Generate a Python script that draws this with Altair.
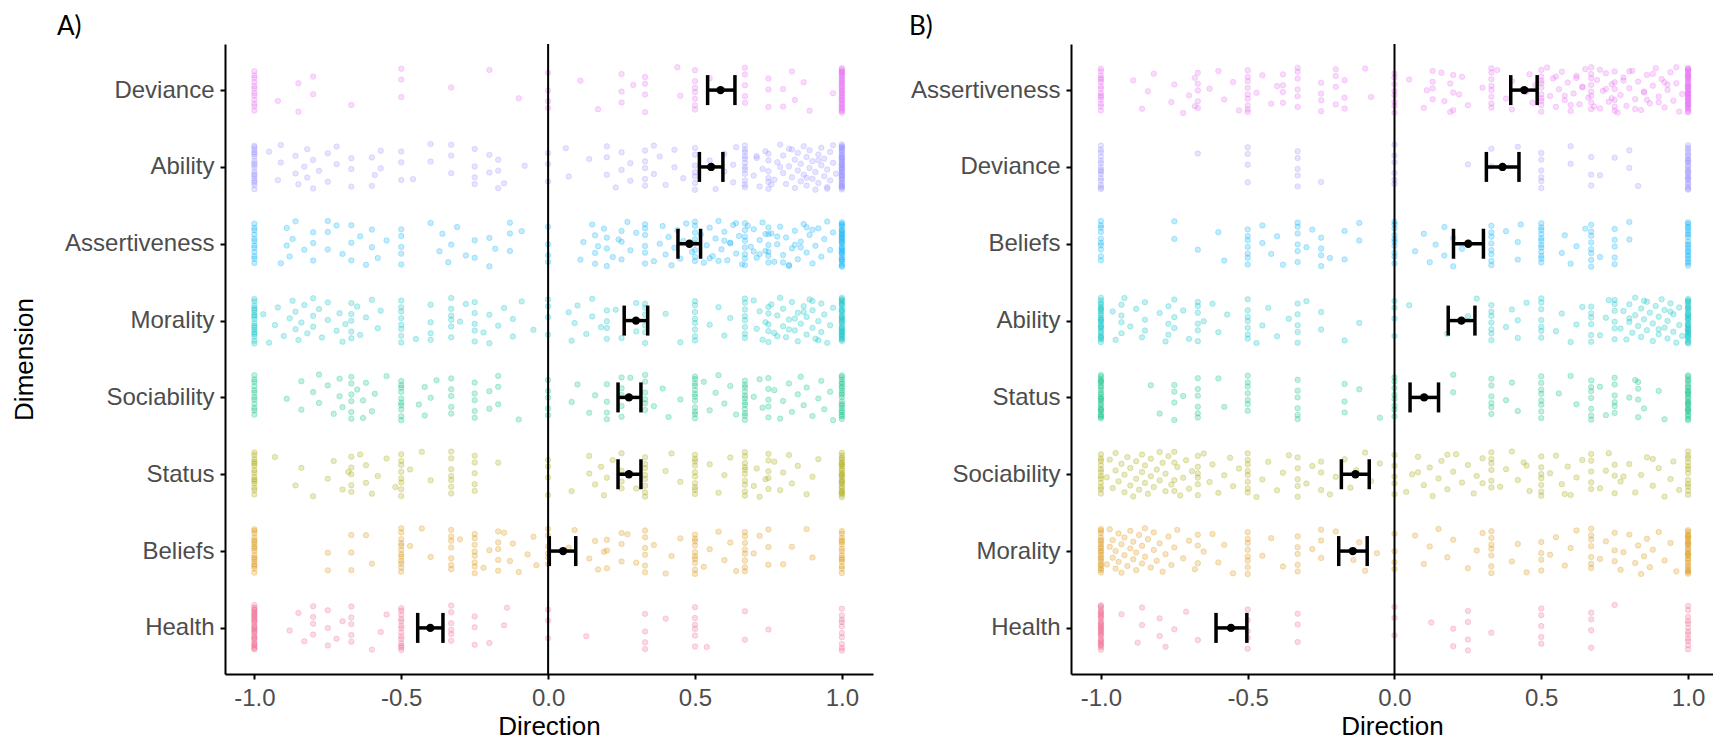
import altair as alt
import pandas as pd

# ---------------- data ----------------
PALETTE = ["#E76BF3", "#9590FF", "#00B0F6", "#00BFC4", "#00BF7D", "#A3A500", "#D89000", "#F0668C"]
X_TICKS = [-1.0, -0.5, 0.0, 0.5, 1.0]

# Panel A (rows top -> bottom)
CATS_A = ["Deviance", "Ability", "Assertiveness", "Morality", "Sociability", "Status", "Beliefs", "Health"]
MEAN_A = [0.587, 0.555, 0.481, 0.299, 0.275, 0.275, 0.051, -0.401]
LO_A = [0.543, 0.515, 0.442, 0.259, 0.238, 0.238, 0.004, -0.444]
HI_A = [0.636, 0.595, 0.519, 0.339, 0.316, 0.316, 0.094, -0.358]

# Panel B (rows top -> bottom)
CATS_B = ["Assertiveness", "Deviance", "Beliefs", "Ability", "Status", "Sociability", "Morality", "Health"]
MEAN_B = [0.442, 0.368, 0.251, 0.228, 0.101, -0.133, -0.142, -0.557]
LO_B = [0.396, 0.313, 0.201, 0.183, 0.053, -0.181, -0.190, -0.608]
HI_B = [0.486, 0.424, 0.303, 0.274, 0.150, -0.086, -0.093, -0.503]

# individual responses: (value, count) for stacked values, plus single values
A_DEVIANCE_STACK = [(-1, 12), (-0.5, 3), (0, 4), (0.33, 4), (0.5, 7), (0.67, 5), (0.75, 3), (1, 35)]
A_DEVIANCE_SINGLE = [-0.92, -0.85, -0.85, -0.8, -0.8, -0.67, -0.33, -0.2, -0.1, 0.11, 0.17, 0.25, 0.25, 0.25,
                     0.29, 0.44, 0.45, 0.55, 0.8, 0.8, 0.83, 0.84, 0.87, 0.89, 0.97]

A_ABILITY_STACK = [(-1, 18), (-0.67, 3), (-0.5, 3), (-0.33, 3), (-0.25, 4), (-0.17, 3), (0, 3), (0.2, 3),
                   (0.33, 5), (0.5, 7), (0.67, 12), (0.75, 6), (1, 40)]
A_ABILITY_SINGLE = [-0.95, -0.92, -0.91, -0.91, -0.86, -0.86, -0.85, -0.83, -0.82, -0.82, -0.8, -0.8, -0.78,
                    -0.75, -0.75, -0.72, -0.72, -0.59, -0.6, -0.6, -0.57, -0.57, -0.46, -0.4, -0.4, -0.2, -0.2,
                    -0.15, -0.08, 0.06, 0.07, 0.14, 0.23, 0.25, 0.25, 0.28, 0.28, 0.36, 0.36, 0.38, 0.4, 0.43,
                    0.43, 0.46, 0.55, 0.57, 0.6, 0.6, 0.63, 0.63, 0.64, 0.7, 0.71, 0.72, 0.73, 0.74, 0.77, 0.78,
                    0.79, 0.8, 0.8, 0.81, 0.82, 0.82, 0.83, 0.84, 0.84, 0.85, 0.85, 0.86, 0.86, 0.87, 0.87, 0.88,
                    0.88, 0.89, 0.89, 0.9, 0.9, 0.91, 0.91, 0.92, 0.92, 0.93, 0.93, 0.94, 0.94, 0.95, 0.95, 0.96,
                    0.96, 0.97, 0.97, 0.98, 0.71, 0.76, 0.79, 0.83, 0.88, 0.92, 0.95]

A_ASSERT_STACK = [(-1, 12), (-0.75, 3), (-0.67, 3), (-0.5, 5), (-0.25, 2), (-0.13, 3), (0, 4), (0.2, 3),
                  (0.25, 3), (0.33, 6), (0.5, 8), (0.67, 8), (0.75, 6), (1, 30)]
A_ASSERT_SINGLE = [-0.91, -0.89, -0.89, -0.88, -0.87, -0.86, -0.83, -0.8, -0.8, -0.8, -0.72, -0.7, -0.64, -0.62,
                   -0.6, -0.6, -0.58, -0.55, -0.4, -0.37, -0.36, -0.34, -0.33, -0.31, -0.28, -0.2, -0.2, -0.18,
                   -0.09, 0.11, 0.12, 0.15, 0.16, 0.16, 0.16, 0.17, 0.19, 0.22, 0.24, 0.27, 0.28, 0.3, 0.36, 0.38,
                   0.39, 0.4, 0.41, 0.42, 0.43, 0.44, 0.45, 0.46, 0.47, 0.49, 0.52, 0.53, 0.54, 0.55, 0.56, 0.57,
                   0.58, 0.59, 0.6, 0.61, 0.62, 0.63, 0.64, 0.65, 0.66, 0.69, 0.7, 0.71, 0.72, 0.73, 0.74, 0.76,
                   0.77, 0.78, 0.79, 0.8, 0.81, 0.82, 0.83, 0.84, 0.85, 0.86, 0.87, 0.88, 0.89, 0.9, 0.91, 0.92,
                   0.93, 0.94, 0.95, 0.96, 0.97, 0.58, 0.62, 0.68, 0.72, 0.78, 0.82, 0.86, 0.9, 0.55, 0.6, 0.64,
                   0.7, 0.74, 0.8, 0.84, 0.88]

A_MORAL_STACK = [(-1, 18), (-0.67, 5), (-0.5, 8), (-0.4, 4), (-0.33, 6), (-0.25, 5), (0, 4), (0.2, 4),
                 (0.33, 6), (0.5, 8), (0.67, 8), (0.75, 5), (1, 30)]
A_MORAL_SINGLE = [-0.97, -0.95, -0.93, -0.92, -0.9, -0.88, -0.87, -0.86, -0.86, -0.85, -0.84, -0.83, -0.82, -0.8,
                  -0.8, -0.8, -0.78, -0.77, -0.75, -0.75, -0.72, -0.71, -0.7, -0.69, -0.65, -0.64, -0.62, -0.6,
                  -0.58, -0.57, -0.45, -0.3, -0.28, -0.22, -0.2, -0.2, -0.17, -0.15, -0.12, -0.12, -0.09, -0.05,
                  0.07, 0.08, 0.09, 0.1, 0.13, 0.15, 0.15, 0.18, 0.23, 0.25, 0.3, 0.3, 0.3, 0.4, 0.45, 0.55, 0.58,
                  0.6, 0.62, 0.7, 0.71, 0.72, 0.73, 0.74, 0.76, 0.77, 0.78, 0.79, 0.8, 0.8, 0.81, 0.82, 0.83, 0.84,
                  0.85, 0.85, 0.86, 0.87, 0.88, 0.88, 0.89, 0.9, 0.9, 0.91, 0.92, 0.93, 0.93, 0.94, 0.95, 0.96,
                  0.97, 0.78, 0.84, 0.9, 0.82, 0.87, 0.92]

A_SOCIAL_STACK = [(-1, 12), (-0.67, 6), (-0.5, 10), (-0.33, 5), (-0.25, 5), (-0.17, 3), (0, 5), (0.2, 4),
                  (0.25, 5), (0.33, 6), (0.5, 12), (0.67, 12), (0.75, 5), (1, 20)]
A_SOCIAL_SINGLE = [-0.89, -0.84, -0.84, -0.8, -0.78, -0.78, -0.75, -0.73, -0.71, -0.71, -0.7, -0.65, -0.63,
                   -0.63, -0.62, -0.6, -0.59, -0.55, -0.44, -0.42, -0.42, -0.4, -0.38, -0.2, -0.2, -0.1, 0.08,
                   0.1, 0.14, 0.16, 0.28, 0.36, 0.39, 0.41, 0.45, 0.53, 0.55, 0.57, 0.58, 0.6, 0.62, 0.64, 0.7,
                   0.72, 0.73, 0.77, 0.79, 0.8, 0.82, 0.83, 0.85, 0.86, 0.87, 0.88, 0.9, 0.92, 0.93, 0.94, 0.96,
                   0.97]

A_STATUS_STACK = [(-1, 15), (-0.67, 5), (-0.5, 8), (-0.33, 7), (-0.25, 5), (0, 4), (0.25, 4), (0.33, 8),
                  (0.5, 10), (0.67, 10), (0.75, 5), (1, 25)]
A_STATUS_SINGLE = [-0.93, -0.86, -0.84, -0.8, -0.75, -0.73, -0.7, -0.68, -0.64, -0.62, -0.62, -0.6, -0.58,
                   -0.55, -0.52, -0.47, -0.43, -0.4, -0.17, 0.08, 0.14, 0.14, 0.16, 0.18, 0.19, 0.2, 0.22, 0.3,
                   0.4, 0.42, 0.45, 0.55, 0.58, 0.6, 0.62, 0.7, 0.71, 0.72, 0.74, 0.77, 0.79, 0.8, 0.82, 0.83,
                   0.85, 0.88, 0.9, 0.92]

A_BELIEF_STACK = [(-1, 18), (-0.67, 3), (-0.5, 12), (-0.33, 7), (-0.25, 8), (-0.17, 5), (0, 6), (0.2, 3),
                  (0.25, 3), (0.33, 6), (0.5, 10), (0.67, 8), (0.75, 3), (1, 15)]
A_BELIEF_SINGLE = [-0.75, -0.75, -0.62, -0.6, -0.47, -0.43, -0.4, -0.3, -0.22, -0.2, -0.15, -0.13, -0.12, -0.1,
                   -0.07, -0.05, -0.04, 0.07, 0.09, 0.14, 0.16, 0.17, 0.19, 0.27, 0.3, 0.36, 0.4, 0.42, 0.45,
                   0.53, 0.55, 0.58, 0.6, 0.62, 0.64, 0.7, 0.72, 0.8, 0.83, 0.88, 0.9]

A_HEALTH_STACK = [(-1, 30), (-0.67, 5), (-0.5, 14), (-0.33, 6), (-0.25, 3), (0, 3), (0.33, 4), (0.5, 6),
                  (0.67, 2), (1, 10)]
A_HEALTH_SINGLE = [-0.88, -0.85, -0.83, -0.8, -0.8, -0.8, -0.8, -0.75, -0.75, -0.75, -0.72, -0.7, -0.6, -0.57,
                   -0.55, -0.2, -0.15, -0.14, 0.13, 0.4, 0.54, 0.75]

B_ASSERT_STACK = [(-1, 15), (-0.67, 5), (-0.5, 9), (-0.38, 4), (-0.33, 6), (-0.25, 4), (-0.2, 4), (-0.17, 3),
                  (0, 8), (0.13, 4), (0.2, 3), (0.33, 8), (0.5, 10), (0.67, 8), (0.75, 6), (1, 40)]
B_ASSERT_SINGLE = [-0.89, -0.86, -0.84, -0.82, -0.76, -0.75, -0.72, -0.7, -0.68, -0.68, -0.63, -0.6, -0.58,
                   -0.55, -0.53, -0.47, -0.45, -0.42, -0.4, -0.1, -0.08, 0.05, 0.1, 0.11, 0.16, 0.17, 0.19, 0.19,
                   0.22, 0.23, 0.25, 0.3, 0.35, 0.38, 0.4, 0.4, 0.45, 0.46, 0.47, 0.48, 0.52, 0.53, 0.54, 0.55,
                   0.56, 0.57, 0.58, 0.59, 0.6, 0.61, 0.62, 0.63, 0.64, 0.65, 0.66, 0.69, 0.7, 0.71, 0.72, 0.73,
                   0.74, 0.76, 0.77, 0.78, 0.79, 0.8, 0.81, 0.82, 0.83, 0.84, 0.85, 0.86, 0.87, 0.88, 0.89, 0.9,
                   0.91, 0.92, 0.93, 0.94, 0.95, 0.96, 0.97, 0.98, 0.55, 0.6, 0.64, 0.7, 0.74, 0.78, 0.82, 0.85,
                   0.88, 0.9, 0.93, 0.96, 0.58, 0.62, 0.68, 0.72, 0.8, 0.86, 0.92]

B_DEVIANCE_STACK = [(-1, 15), (-0.5, 4), (-0.33, 5), (0, 6), (0.33, 2), (0.5, 6), (0.6, 2), (0.67, 3),
                    (0.8, 2), (1, 25)]
B_DEVIANCE_SINGLE = [-0.67, -0.25, 0.25, 0.42, 0.7, 0.75, 0.83]

B_BELIEF_STACK = [(-1, 10), (-0.5, 7), (-0.33, 6), (-0.25, 4), (-0.17, 2), (0, 10), (0.33, 8), (0.5, 12),
                  (0.67, 8), (0.75, 5), (1, 20)]
B_BELIEF_SINGLE = [-0.75, -0.75, -0.67, -0.6, -0.58, -0.45, -0.45, -0.42, -0.4, -0.38, -0.3, -0.28, -0.22,
                   -0.12, -0.12, 0.07, 0.1, 0.12, 0.14, 0.17, 0.17, 0.2, 0.2, 0.23, 0.38, 0.42, 0.42, 0.43, 0.57,
                   0.58, 0.6, 0.62, 0.65, 0.7, 0.8, 0.8]

B_ABILITY_STACK = [(-1, 25), (-0.67, 6), (-0.5, 7), (-0.33, 5), (0, 4), (0.33, 7), (0.5, 7), (0.67, 6),
                   (0.75, 6), (1, 30)]
B_ABILITY_SINGLE = [-0.96, -0.95, -0.93, -0.93, -0.93, -0.93, -0.92, -0.9, -0.88, -0.86, -0.85, -0.85, -0.85,
                    -0.8, -0.78, -0.77, -0.77, -0.77, -0.75, -0.75, -0.75, -0.72, -0.7, -0.65, -0.62, -0.6,
                    -0.57, -0.47, -0.45, -0.43, -0.4, -0.36, -0.3, -0.25, -0.25, -0.17, -0.12, 0.05, 0.18, 0.25,
                    0.28, 0.38, 0.4, 0.42, 0.42, 0.45, 0.55, 0.57, 0.6, 0.62, 0.64, 0.7, 0.72, 0.73, 0.77, 0.78,
                    0.79, 0.8, 0.8, 0.81, 0.82, 0.82, 0.83, 0.84, 0.84, 0.85, 0.86, 0.86, 0.87, 0.88, 0.88, 0.89,
                    0.9, 0.9, 0.91, 0.92, 0.92, 0.93, 0.93, 0.94, 0.95, 0.95, 0.96, 0.97, 0.97, 0.98, 0.8, 0.85,
                    0.9, 0.94]

B_STATUS_STACK = [(-1, 25), (-0.75, 4), (-0.67, 6), (-0.5, 7), (-0.33, 6), (-0.17, 3), (0, 8), (0.2, 2),
                  (0.33, 6), (0.5, 8), (0.67, 7), (0.75, 6), (0.83, 4), (1, 25)]
B_STATUS_SINGLE = [-0.83, -0.8, -0.72, -0.6, -0.58, -0.12, -0.05, 0.38, 0.4, 0.42, 0.56, 0.6, 0.62, 0.7, 0.72,
                   0.8, 0.82, 0.85, 0.9, 0.92]

B_SOCIAL_STACK = [(-1, 12), (-0.75, 4), (-0.67, 6), (-0.5, 8), (-0.33, 5), (-0.25, 3), (0, 5), (0.33, 6),
                  (0.5, 7), (0.67, 5), (0.75, 3), (1, 12)]
B_SOCIAL_SINGLE = [-0.98, -0.97, -0.96, -0.95, -0.95, -0.94, -0.93, -0.92, -0.92, -0.91, -0.9, -0.9, -0.89,
                   -0.88, -0.88, -0.87, -0.86, -0.86, -0.85, -0.85, -0.84, -0.83, -0.83, -0.82, -0.81, -0.8,
                   -0.8, -0.79, -0.78, -0.78, -0.77, -0.76, -0.74, -0.73, -0.72, -0.71, -0.7, -0.69, -0.65,
                   -0.63, -0.62, -0.6, -0.58, -0.56, -0.55, -0.53, -0.47, -0.45, -0.43, -0.4, -0.38, -0.36, -0.3,
                   -0.28, -0.22, -0.2, -0.17, -0.15, -0.13, -0.1, -0.08, -0.05, 0.04, 0.06, 0.08, 0.1, 0.12,
                   0.13, 0.15, 0.16, 0.18, 0.2, 0.21, 0.23, 0.25, 0.27, 0.28, 0.3, 0.36, 0.38, 0.4, 0.42, 0.44,
                   0.46, 0.53, 0.55, 0.57, 0.59, 0.6, 0.62, 0.64, 0.7, 0.72, 0.73, 0.77, 0.8, 0.82, 0.84, 0.86,
                   0.88, 0.9, 0.92, 0.94, 0.95, 0.97, 0.08, 0.18, 0.3, 0.45, 0.58, 0.78, 0.88]

B_MORAL_STACK = [(-1, 20), (-0.67, 3), (-0.5, 8), (-0.33, 5), (-0.25, 3), (0, 4), (0.33, 7), (0.5, 4),
                 (0.67, 7), (0.75, 3), (1, 25)]
B_MORAL_SINGLE = [-0.98, -0.97, -0.97, -0.96, -0.96, -0.95, -0.95, -0.94, -0.94, -0.93, -0.93, -0.92, -0.92,
                  -0.91, -0.9, -0.9, -0.89, -0.89, -0.88, -0.88, -0.87, -0.86, -0.86, -0.85, -0.85, -0.84,
                  -0.83, -0.82, -0.82, -0.81, -0.8, -0.79, -0.78, -0.77, -0.76, -0.75, -0.74, -0.72, -0.7,
                  -0.68, -0.65, -0.62, -0.6, -0.58, -0.55, -0.45, -0.42, -0.38, -0.28, -0.2, -0.14, -0.12, -0.1,
                  -0.06, 0.07, 0.1, 0.12, 0.15, 0.18, 0.2, 0.25, 0.28, 0.3, 0.4, 0.42, 0.45, 0.53, 0.55, 0.58,
                  0.6, 0.62, 0.7, 0.72, 0.77, 0.78, 0.8, 0.82, 0.83, 0.84, 0.85, 0.86, 0.87, 0.88, 0.9, 0.92,
                  0.94, 0.96]

B_HEALTH_STACK = [(-1, 30), (-0.5, 5), (-0.33, 3), (0, 3), (0.2, 2), (0.25, 4), (0.33, 1), (0.5, 5),
                  (0.67, 4), (1, 12)]
B_HEALTH_SINGLE = [-0.93, -0.875, -0.86, -0.86, -0.8, -0.8, -0.78, -0.75, -0.71, -0.67, 0.125, 0.75]

A_POINTS = {
    "Deviance": (A_DEVIANCE_STACK, A_DEVIANCE_SINGLE),
    "Ability": (A_ABILITY_STACK, A_ABILITY_SINGLE),
    "Assertiveness": (A_ASSERT_STACK, A_ASSERT_SINGLE),
    "Morality": (A_MORAL_STACK, A_MORAL_SINGLE),
    "Sociability": (A_SOCIAL_STACK, A_SOCIAL_SINGLE),
    "Status": (A_STATUS_STACK, A_STATUS_SINGLE),
    "Beliefs": (A_BELIEF_STACK, A_BELIEF_SINGLE),
    "Health": (A_HEALTH_STACK, A_HEALTH_SINGLE),
}
B_POINTS = {
    "Assertiveness": (B_ASSERT_STACK, B_ASSERT_SINGLE),
    "Deviance": (B_DEVIANCE_STACK, B_DEVIANCE_SINGLE),
    "Beliefs": (B_BELIEF_STACK, B_BELIEF_SINGLE),
    "Ability": (B_ABILITY_STACK, B_ABILITY_SINGLE),
    "Status": (B_STATUS_STACK, B_STATUS_SINGLE),
    "Sociability": (B_SOCIAL_STACK, B_SOCIAL_SINGLE),
    "Morality": (B_MORAL_STACK, B_MORAL_SINGLE),
    "Health": (B_HEALTH_STACK, B_HEALTH_SINGLE),
}


def points_frame(points):
    rows = []
    for cat, (stack, single) in points.items():
        for v, c in stack:
            rows.extend({"cat": cat, "x": v} for _ in range(c))
        rows.extend({"cat": cat, "x": v} for v in single)
    return pd.DataFrame(rows)


def summary_frame(cats, mean, lo, hi):
    return pd.DataFrame({"cat": cats, "mean": mean, "lo": lo, "hi": hi})


LABEL_FONT = "Liberation Sans"
TITLE_FONT = "'Liberation Sans Narrow', 'Arial Narrow', 'Liberation Sans'"
PANEL_H = 630
JIT = 23


def panel(points, summ, cats, label, dx, ytitle, width, xdom):
    yscale = alt.Scale(type="point", domain=cats, padding=0.6)
    xscale = alt.Scale(domain=xdom, nice=False, zero=False)
    xaxis = alt.Axis(values=X_TICKS, format=".1f", title="Direction", grid=False,
                     labelExpr="replace(datum.label, '\u2212', '-')",
                     domainColor="black", domainWidth=2, tickColor="black", tickWidth=2, tickSize=5,
                     labelFont=LABEL_FONT, labelFontSize=24, labelColor="#4D4D4D", labelPadding=7,
                     titleFont=TITLE_FONT, titleFontSize=26, titleFontWeight="normal", titleColor="black",
                     titlePadding=3)
    yaxis_kw = dict(grid=False, domainColor="black", domainWidth=2, tickColor="black", tickWidth=2, tickSize=5,
                    labelFont=LABEL_FONT, labelFontSize=24, labelColor="#4D4D4D", labelPadding=6,
                    minExtent=175, maxExtent=175, labelLimit=300)
    if ytitle:
        yaxis = alt.Axis(title="Dimension", titleFont=TITLE_FONT, titleFontSize=26, titleFontWeight="normal",
                         titleColor="black", titlePadding=13, **yaxis_kw)
    else:
        yaxis = alt.Axis(title=None, **yaxis_kw)

    y_enc = alt.Y("cat:N", scale=yscale, axis=yaxis, sort=cats)
    color_scale = alt.Scale(domain=cats, range=PALETTE)

    pts = (
        alt.Chart(points)
        .transform_window(rn="row_number()")
        .transform_calculate(jit="((datum.rn * 0.6180339887) % 1) - 0.5")
        .mark_circle(size=30, fillOpacity=0.24, strokeWidth=0.8, strokeOpacity=0.32)
        .encode(
            x=alt.X("x:Q", scale=xscale, axis=xaxis),
            y=y_enc,
            yOffset=alt.YOffset("jit:Q", scale=alt.Scale(domain=[-0.5, 0.5], range=[-JIT, JIT])),
            color=alt.Color("cat:N", scale=color_scale, legend=None),
            stroke=alt.Stroke("cat:N", scale=color_scale, legend=None),
        )
    )
    zero = alt.Chart(pd.DataFrame({"z": [0.0]})).mark_rule(color="black", strokeWidth=2).encode(x="z:Q")
    sbase = alt.Chart(summ)
    bar = sbase.mark_rule(color="black", strokeWidth=3.5).encode(x="lo:Q", x2="hi:Q", y=y_enc)
    cap_lo = sbase.mark_tick(color="black", thickness=3.5, size=30, orient="vertical", opacity=1).encode(x="lo:Q", y=y_enc)
    cap_hi = sbase.mark_tick(color="black", thickness=3.5, size=30, orient="vertical", opacity=1).encode(x="hi:Q", y=y_enc)
    mean = sbase.mark_circle(color="black", size=70, opacity=1).encode(x="mean:Q", y=y_enc)

    return alt.layer(pts, zero, bar, cap_lo, cap_hi, mean).properties(
        width=width, height=PANEL_H,
        view=alt.ViewBackground(stroke="transparent", strokeWidth=0),
        title=alt.TitleParams(label, anchor="start", frame="group", dx=dx, fontSize=26,
                              font="Lato", fontWeight="normal", color="black", offset=3),
    )


chart_a = panel(points_frame(A_POINTS), summary_frame(CATS_A, MEAN_A, LO_A, HI_A), CATS_A,
                "A)", -168, True, 648, [-1.1, 1.106])
chart_b = panel(points_frame(B_POINTS), summary_frame(CATS_B, MEAN_B, LO_B, HI_B), CATS_B,
                "B)", -162, False, 642, [-1.102, 1.085])

chart = (
    alt.hconcat(chart_a, chart_b, spacing=23)
    .resolve_scale(x="independent", y="independent", color="independent", stroke="independent")
    .properties(padding={"left": 3, "top": 6, "right": 0, "bottom": 0})
    .configure_view(stroke="transparent", strokeWidth=0)
    .configure(background="white")
)

chart.save("out.html", embed_options={"renderer": "svg", "actions": False})
